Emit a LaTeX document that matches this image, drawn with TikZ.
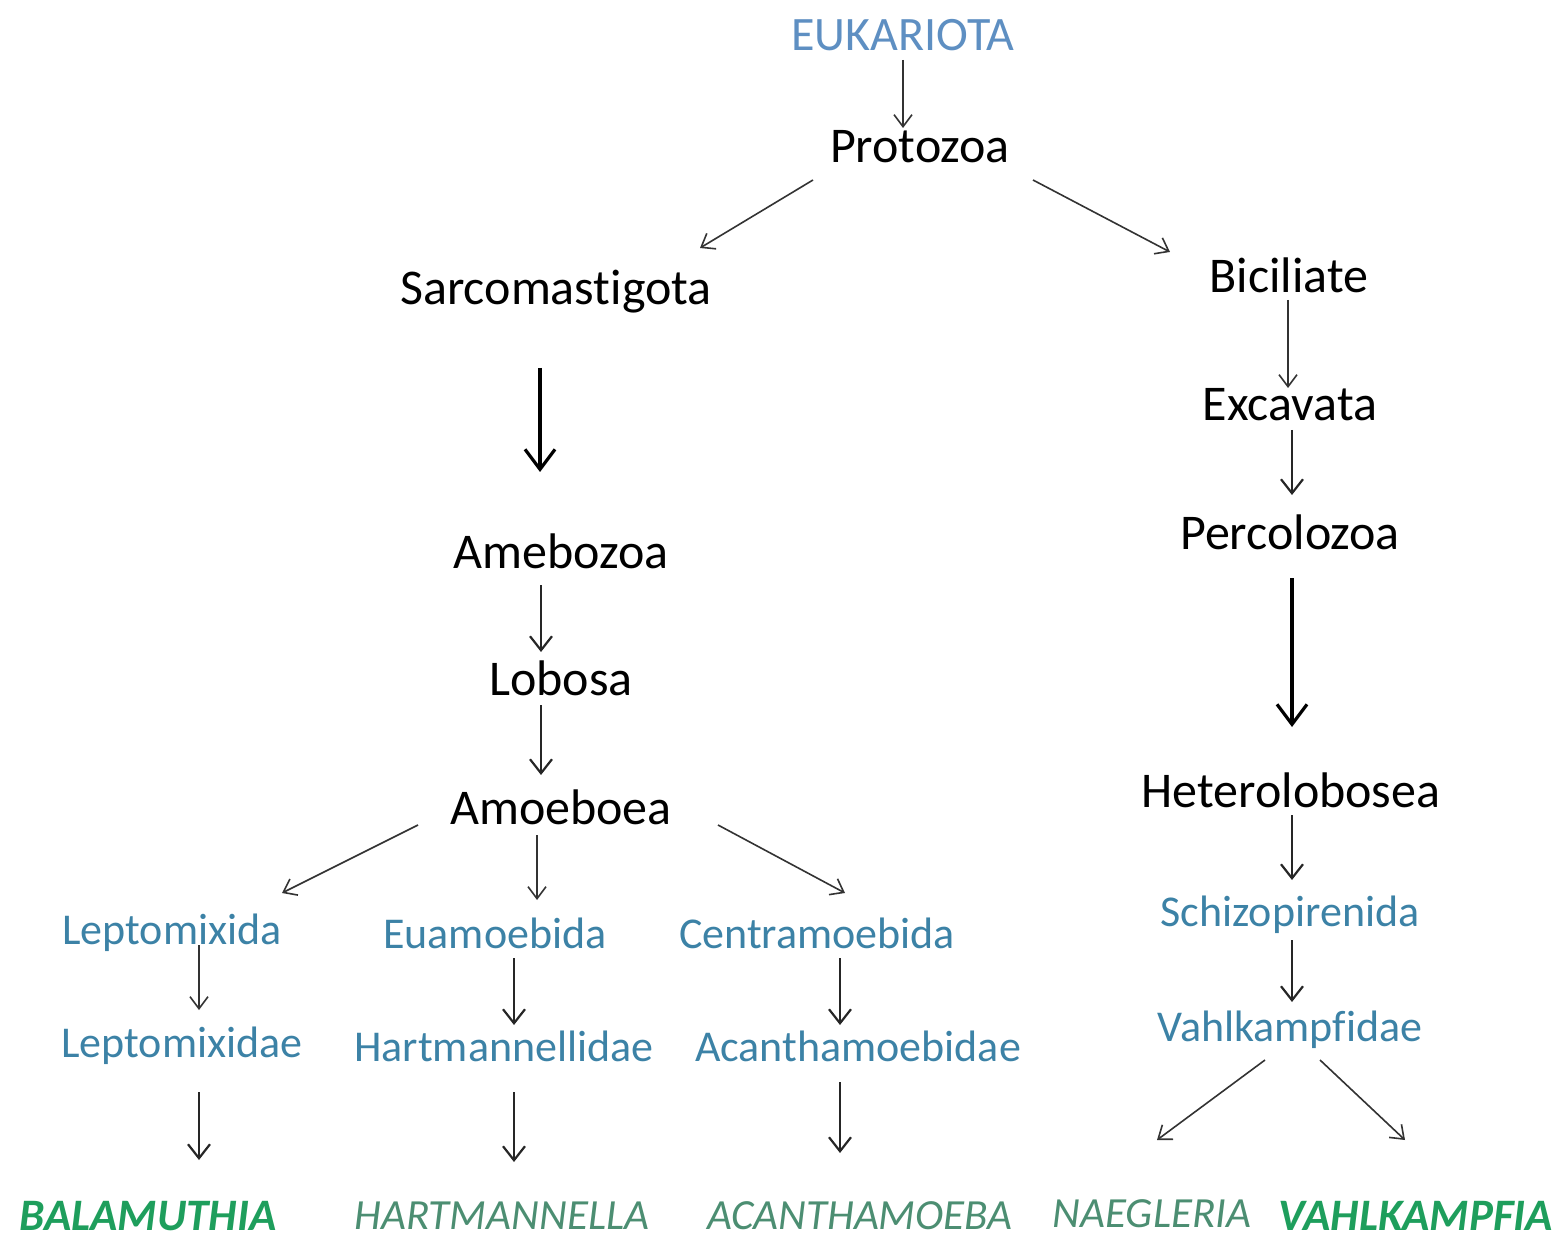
\documentclass[tikz,border=0pt]{standalone}
\usepackage{fontspec}
\setmainfont{Carlito}[Ligatures=CommonOff]
\usetikzlibrary{arrows.meta,calc}
\definecolor{eukblue}{HTML}{5E8FC2}
\definecolor{taxblue}{HTML}{3C82A6}
\definecolor{gengreen}{HTML}{1E9E5C}
\definecolor{gengray}{HTML}{4C8E72}
\definecolor{arrgray}{HTML}{333333}
\tikzset{
  blk/.style={font=\fontsize{50}{58}\selectfont, text=black, inner sep=0pt},
  euk/.style={font=\fontsize{48}{56}\selectfont, text=eukblue, inner sep=0pt},
  tax/.style={font=\fontsize{44}{52}\selectfont, text=taxblue, inner sep=0pt},
  genb/.style={font=\fontsize{45}{52}\selectfont\bfseries\itshape, text=gengreen, inner sep=0pt},
  geni/.style={font=\fontsize{43}{50}\selectfont\itshape, text=gengray, inner sep=0pt},
  thin/.style={draw=arrgray, line width=1.6pt, -{Straight Barb[length=12pt,width=18pt,line width=1.6pt]}},
  mid/.style={draw=black!85, line width=2.2pt, -{Straight Barb[length=14pt,width=22pt,line width=2.2pt]}},
  thick/.style={draw=black, line width=3.2pt, -{Straight Barb[length=20pt,width=30pt,line width=3.2pt]}},
}
\begin{document}
\begin{tikzpicture}[x=1pt,y=-1pt]
\useasboundingbox (0,0) rectangle (1567,1246);
% nodes
\node[euk] (euk) at (903,35) {EUKARIOTA};
\node[blk] (proto) at (920,147) {Protozoa};
\node[blk] (sarco) at (556,292) {Sarcomast\kern0pt igota};
\node[blk] (bici) at (1289,275) {Biciliate};
\node[blk] (ameb) at (561,551) {Amebozoa};
\node[blk] (lobo) at (561,678) {Lobosa};
\node[blk] (amoe) at (561,807) {Amoeboea};
\node[blk] (exca) at (1290,405) {Excavata};
\node[blk] (perc) at (1290,532) {Percolozoa};
\node[blk] (hete) at (1291,790) {Heterolobosea};
\node[tax] (lepa) at (172,933) {Leptomixida};
\node[tax] (euam) at (495,933) {Euamoebida};
\node[tax] (cent) at (817,933) {Centramoebida};
\node[tax] (lepe) at (182,1046) {Leptomixidae};
\node[tax] (hart) at (504,1046) {Hartmannellidae};
\node[tax] (acae) at (858,1046) {Acanthamoebidae};
\node[tax] (schi) at (1290,915) {Schizopirenida};
\node[tax] (vahe) at (1290,1030) {Vahlkampf\kern0pt idae};
\node[genb] (bala) at (148,1216) {BALAMUTHIA};
\node[geni] (hgen) at (502,1216) {HARTMANNELLA};
\node[geni] (agen) at (860,1216) {ACANTHAMOEBA};
\node[geni] (naeg) at (1152,1214) {NAEGLERIA};
\node[genb] (vgen) at (1416,1216) {VAHLKAMPFIA};
% connectors
\draw[thin]  ($(euk)+(0,25)$)      -- ($(proto)+(-17,-19)$);
\draw[thin]  ($(proto)+(-107,33)$) -- ($(sarco)+(144,-44)$);
\draw[thin]  ($(proto)+(113,33)$)  -- ($(bici)+(-119,-23)$);
\draw[thick] ($(sarco)+(-16,76)$)  -- ($(ameb)+(-21,-79)$);
\draw[mid]   ($(ameb)+(-20,34)$)   -- ($(lobo)+(-20,-26)$);
\draw[mid]   ($(lobo)+(-20,27)$)   -- ($(amoe)+(-20,-32)$);
\draw[thin]  ($(amoe)+(-143,18)$)  -- ($(lepa)+(110,-40)$);
\draw[thin]  ($(amoe)+(-24,28)$)   -- ($(euam)+(42,-33)$);
\draw[thin]  ($(amoe)+(157,18)$)   -- ($(cent)+(28,-40)$);
\draw[thin]  ($(lepa)+(27,12)$)    -- ($(lepe)+(17,-36)$);
\draw[mid]   ($(euam)+(19,25)$)    -- ($(hart)+(10,-21)$);
\draw[mid]   ($(cent)+(23,25)$)    -- ($(acae)+(-18,-21)$);
\draw[mid]   ($(lepe)+(17,46)$)    -- ($(bala)+(51,-56)$);
\draw[mid]   ($(hart)+(10,46)$)    -- ($(hgen)+(12,-54)$);
\draw[mid]   ($(acae)+(-18,36)$)   -- ($(agen)+(-20,-63)$);
\draw[thin]  ($(bici)+(-1,25)$)    -- ($(exca)+(-2,-17)$);
\draw[mid]   ($(exca)+(2,25)$)     -- ($(perc)+(2,-37)$);
\draw[thick] ($(perc)+(2,46)$)     -- ($(hete)+(1,-63)$);
\draw[mid]   ($(hete)+(1,25)$)     -- ($(schi)+(2,-35)$);
\draw[mid]   ($(schi)+(2,25)$)     -- ($(vahe)+(2,-28)$);
\draw[thin]  ($(vahe)+(-25,30)$)   -- ($(naeg)+(5,-74)$);
\draw[thin]  ($(vahe)+(30,30)$)    -- ($(vgen)+(-11,-76)$);
\end{tikzpicture}
\end{document}
